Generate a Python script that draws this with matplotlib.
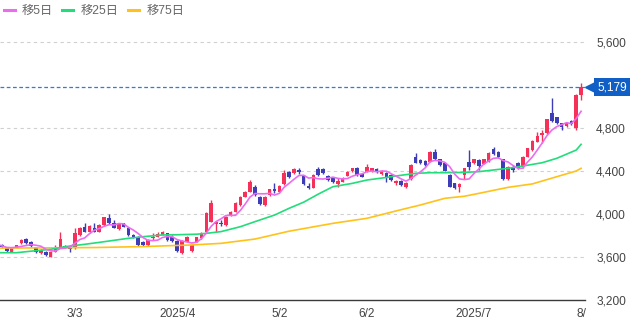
import numpy as np
import pandas as pd
import matplotlib
matplotlib.use("Agg")
import matplotlib.pyplot as plt
from matplotlib.lines import Line2D
from matplotlib.transforms import blended_transform_factory

plt.rcParams['font.family'] = ['Liberation Sans', 'Noto Sans CJK JP', 'DejaVu Sans']

# ---- data ----
opens = [3690, 3712, 3687, 3650, 3687, 3727, 3764, 3736, 3690, 3640,
         3650, 3603, 3650, 3696, 3702, 3702, 3681, 3804, 3882, 3829,
         3873, 3836, 3898, 3960, 3913, 3857, 3913, 3873, 3805, 3789,
         3742, 3712, 3774, 3789, 3805, 3820, 3790, 3749, 3634, 3742,
         3660, 3743, 3774, 3836, 3929, 3907, 3919, 3898, 3990, 4021,
         4083, 4161, 4207, 4254, 4161, 4083, 4177, 4229, 4207, 4279,
         4394, 4378, 4409, 4356, 4263, 4245, 4418, 4418, 4356, 4332,
         4276, 4301, 4356, 4400, 4431, 4369, 4394, 4400, 4418, 4369,
         4384, 4363, 4285, 4310, 4248, 4322, 4527, 4502, 4496, 4487,
         4580, 4508, 4471, 4363, 4285, 4248, 4363, 4487, 4471, 4502,
         4468, 4487, 4601, 4580, 4508, 4322, 4434, 4477, 4434, 4533,
         4595, 4673, 4735, 4750, 4936, 4899, 4843, 4818, 4868, 4797,
         5107]
closes = [3718, 3690, 3659, 3681, 3708, 3758, 3727, 3702, 3650, 3665,
          3619, 3650, 3696, 3764, 3687, 3676, 3820, 3867, 3836, 3888,
          3836, 3897, 3969, 3913, 3873, 3904, 3882, 3805, 3789, 3712,
          3712, 3758, 3790, 3811, 3836, 3760, 3745, 3656, 3749, 3789,
          3711, 3783, 3820, 4012, 4105, 3929, 3907, 3975, 4021, 4105,
          4161, 4208, 4301, 4177, 4093, 4161, 4230, 4217, 4260, 4378,
          4341, 4418, 4390, 4276, 4245, 4363, 4363, 4378, 4316, 4294,
          4307, 4338, 4394, 4425, 4363, 4347, 4440, 4425, 4387, 4400,
          4340, 4316, 4310, 4270, 4291, 4456, 4477, 4471, 4456, 4580,
          4508, 4456, 4403, 4254, 4239, 4279, 4425, 4434, 4508, 4446,
          4508, 4570, 4558, 4527, 4322, 4440, 4409, 4425, 4533, 4611,
          4682, 4725, 4750, 4880, 4868, 4843, 4812, 4843, 4837, 5107,
          5179]
highs = [3730, 3722, 3695, 3690, 3715, 3770, 3775, 3745, 3695, 3672,
         3655, 3655, 3712, 3830, 3712, 3708, 3867, 3875, 3913, 3895,
         3913, 3905, 3975, 3997, 3944, 3910, 3920, 3880, 3812, 3795,
         3750, 3765, 3820, 3836, 3842, 3826, 3800, 3755, 3756, 3795,
         3718, 3790, 3828, 4020, 4130, 3937, 3945, 3982, 4028, 4112,
         4168, 4215, 4316, 4270, 4168, 4168, 4237, 4285, 4268, 4409,
         4400, 4425, 4425, 4362, 4285, 4370, 4440, 4425, 4362, 4338,
         4332, 4345, 4400, 4432, 4438, 4375, 4465, 4432, 4425, 4407,
         4390, 4370, 4316, 4316, 4298, 4462, 4565, 4508, 4502, 4586,
         4600, 4515, 4478, 4370, 4292, 4285, 4432, 4595, 4515, 4508,
         4515, 4577, 4626, 4587, 4515, 4447, 4456, 4484, 4540, 4618,
         4690, 4766, 4780, 4887, 5076, 4906, 4850, 4850, 4875, 5114,
         5215]
lows = [3685, 3680, 3650, 3645, 3680, 3720, 3720, 3695, 3640, 3632,
        3612, 3597, 3645, 3690, 3680, 3650, 3675, 3798, 3830, 3820,
        3830, 3830, 3890, 3905, 3866, 3850, 3875, 3798, 3780, 3705,
        3705, 3705, 3758, 3785, 3800, 3752, 3738, 3650, 3625, 3736,
        3650, 3738, 3768, 3830, 3922, 3836, 3885, 3892, 3984, 4015,
        4077, 4155, 4200, 4170, 4086, 4077, 4170, 4192, 4200, 4272,
        4335, 4372, 4370, 4270, 4232, 4238, 4350, 4372, 4310, 4288,
        4255, 4295, 4350, 4394, 4356, 4340, 4388, 4394, 4380, 4362,
        4300, 4310, 4270, 4262, 4240, 4316, 4470, 4465, 4450, 4480,
        4502, 4450, 4396, 4248, 4232, 4208, 4322, 4410, 4465, 4410,
        4462, 4480, 4550, 4520, 4315, 4315, 4394, 4418, 4427, 4526,
        4588, 4666, 4660, 4743, 4860, 4836, 4781, 4811, 4830, 4781,
        5060]

# 25-day and 75-day moving averages, read at sampled candle positions
ma25_idx = [0, 4, 8, 11, 14, 18, 21, 27, 30, 34, 37, 41, 43, 46, 50, 53, 57,
            60, 63, 66, 69, 73, 76, 80, 83, 86, 89, 92, 96, 99, 105, 108,
            112, 115, 119, 120]
ma25_val = [3640, 3640, 3659, 3671, 3696, 3718, 3736, 3774, 3789, 3805, 3807,
            3812, 3820, 3836, 3882, 3929, 3990, 4053, 4110, 4185, 4254, 4285,
            4316, 4340, 4360, 4378, 4384, 4384, 4387, 4394, 4425, 4446, 4477,
            4518, 4595, 4648]
ma75_idx = [0, 10, 20, 30, 40, 46, 53, 60, 69, 76, 83, 87, 92, 96, 99, 105,
            110, 115, 119, 120]
ma75_val = [3683, 3685, 3688, 3697, 3712, 3727, 3767, 3840, 3913, 3960, 4040,
            4084, 4146, 4165, 4192, 4248, 4280, 4347, 4400, 4425]

tick_pos = [16, 37, 58, 76, 98, 120]
tick_labels = ['3/3', '2025/4', '5/2', '6/2', '2025/7', '8/']
y_ticks = [3200, 3600, 4000, 4400, 4800, 5600]

legend_labels = ['移5日', '移25日', '移75日']

# ---- style ----
UP = '#f5315a'
DOWN = '#3d3db8'
C5 = '#ec6cf0'
C25 = '#22dd7a'
C75 = '#ffc21a'
TXT = '#444444'

o = np.array(opens, float)
c = np.array(closes, float)
h = np.array(highs, float)
l = np.array(lows, float)
x = np.arange(len(c))
ma5 = pd.Series(c).rolling(5, min_periods=1).mean().values

fig = plt.figure(figsize=(6.35, 3.36), dpi=100)
ax = fig.add_axes([0.0, 36 / 336, 585 / 635, 275 / 336])
ax.set_xlim(0.6, 120.8)
ax.set_ylim(3200, 5758)

# grid
for yv in y_ticks[1:]:
    ax.axhline(yv, color='#d0d0d0', lw=0.8, dashes=(3, 3), zorder=0)

# candles
up = c >= o
cols = np.where(up, UP, DOWN)
ax.vlines(x, l, h, colors=cols, lw=1.0, zorder=2)
body_bottom = np.minimum(o, c)
body_h = np.maximum(np.abs(c - o), 8)
ax.bar(x, body_h, bottom=body_bottom, width=0.74, color=cols, edgecolor=cols,
       linewidth=0, zorder=3)

# moving averages
ax.plot(ma75_idx, ma75_val, color=C75, lw=1.2, zorder=4)
ax.plot(ma25_idx, ma25_val, color=C25, lw=1.2, zorder=4)
ax.plot(x, ma5, color=C5, lw=1.2, zorder=4)

# current price line and badge
last = c[-1]
ax.axhline(last, color='#2a7de1', lw=0.9, dashes=(3, 2), zorder=1)
trans = blended_transform_factory(ax.transAxes, ax.transData)
ax.plot([1.0 + 5 / 585], [last], marker='<', ms=7, color='#0f5fc6',
        transform=trans, clip_on=False, zorder=5)
ax.text(1.0 + 12 / 585, last, f"{last:,.0f}", transform=trans, ha='left',
        va='center', color='white', fontsize=8.6, zorder=6,
        bbox=dict(boxstyle='square,pad=0.25', fc='#0f5fc6', ec='none'))

# axes styling
for s in ['top', 'left', 'right']:
    ax.spines[s].set_visible(False)
ax.spines['bottom'].set_color('#3a3a3a')
ax.spines['bottom'].set_linewidth(1.0)
ax.yaxis.tick_right()
ax.set_yticks(y_ticks)
ax.set_yticklabels([f"{v:,}" for v in y_ticks])
ax.tick_params(axis='y', length=0, pad=8, labelsize=8.6, labelcolor=TXT)
ax.set_xticks(tick_pos)
ax.set_xticklabels(tick_labels)
ax.tick_params(axis='x', length=0, pad=6, labelsize=8.6, labelcolor=TXT)

# legend
handles = [Line2D([], [], color=col, lw=2.2) for col in (C5, C25, C75)]
fig.legend(handles, legend_labels, loc='upper left', bbox_to_anchor=(0.0, 0.995),
           borderaxespad=0.0, borderpad=0.3, ncol=3, frameon=False,
           fontsize=8.8, handlelength=0.9, handletextpad=0.6,
           columnspacing=0.75, labelcolor='#666666')

fig.savefig('out.png', dpi=100)
